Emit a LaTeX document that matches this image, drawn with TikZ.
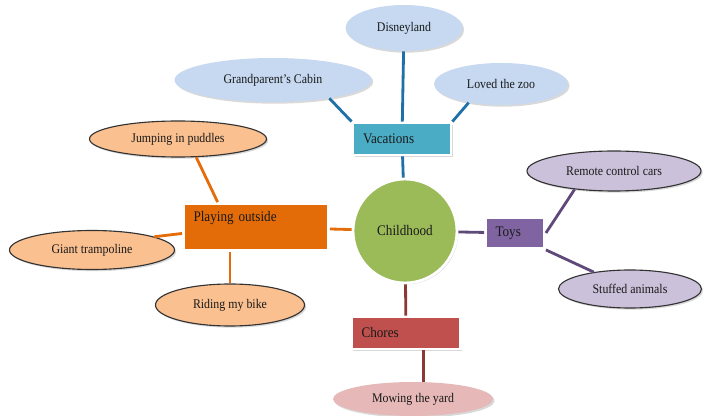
\documentclass[tikz,border=0pt]{standalone}
\usepackage{fontspec}
\setmainfont[FakeStretch=0.9]{Liberation Serif}
\usetikzlibrary{positioning,shapes,shadows}

\definecolor{vacbox}{HTML}{4BACC6}
\definecolor{vacfill}{HTML}{C6D9F1}
\definecolor{vacline}{HTML}{1F70A8}
\definecolor{hubfill}{HTML}{9BBB59}
\definecolor{toybox}{HTML}{8064A2}
\definecolor{toyfill}{HTML}{CCC1DA}
\definecolor{toyline}{HTML}{5F497A}
\definecolor{chorebox}{HTML}{C0504D}
\definecolor{chorefill}{HTML}{E6B9B8}
\definecolor{choreline}{HTML}{8C3836}
\definecolor{playbox}{HTML}{E36C09}
\definecolor{playfill}{HTML}{FAC090}
\definecolor{playline}{HTML}{E46C0A}

\begin{document}
\begin{tikzpicture}
	\useasboundingbox (0,0) rectangle (17.575,-10.4);
	\tikzset{
		leaf/.style={ellipse,inner sep=0pt,font=\fontsize{9.4}{11}\selectfont,text=black!90},
		softshadow/.style={drop shadow={shadow xshift=1.2pt,shadow yshift=-1.2pt,opacity=.3}},
		vacleaf/.style={leaf,fill=vacfill,softshadow},
		toyleaf/.style={leaf,fill=toyfill,draw=black!80,line width=0.8pt,softshadow},
		playleaf/.style={leaf,fill=playfill,draw=black!80,line width=0.8pt,softshadow},
		choreleaf/.style={leaf,fill=chorefill,softshadow},
		topic/.style={rectangle,draw=white,line width=2pt,inner xsep=0.25cm,inner ysep=0pt,
			align=left,font=\fontsize{10.4}{12}\selectfont,text=black!90,softshadow},
		link/.style={line width=2pt}
	}

	%% Hub
	\node[circle,fill=hubfill,draw=white,line width=2pt,minimum size=2.6cm,inner sep=0pt,
		font=\fontsize{10.4}{12}\selectfont,text=black!90,
		drop shadow={shadow xshift=1pt,shadow yshift=-1pt,opacity=.3}] (child) at (10.125,-5.775) {Childhood};

	%% Topic boxes
	\node[topic,fill=vacbox,minimum width=2.45cm,minimum height=0.8cm,text width=1.95cm] (vac) at (10.05,-3.475) {Vacations};
	\node[topic,fill=toybox,minimum width=1.475cm,minimum height=0.775cm,text width=0.975cm] (toys) at (12.875,-5.825) {Toys};
	\node[topic,fill=chorebox,minimum width=2.725cm,minimum height=0.8cm,text width=2.225cm] (chores) at (10.15,-8.325) {Chores};
	\node[topic,fill=playbox,minimum width=3.625cm,text width=3.125cm,inner ysep=0.15cm,
		text height=0.3cm,text depth=0.575cm] (play) at (6.4,-5.675) {Playing outside};

	%% Vacations
	\node[vacleaf,minimum width=2.925cm,minimum height=1.15cm] (disney) at (10.1,-0.7) {Disneyland};
	\node[vacleaf,minimum width=4.925cm,minimum height=1.1cm] (cabin) at (6.825,-2.0) {Grandparent’s Cabin};
	\node[vacleaf,minimum width=3.35cm,minimum height=1.05cm] (zoo) at (12.525,-2.1) {Loved the zoo};

	%% Toys
	\node[toyleaf,minimum width=4.35cm,minimum height=1.0cm] (remote) at (15.35,-4.275) {Remote control cars};
	\node[toyleaf,minimum width=3.575cm,minimum height=0.95cm] (stuffed) at (15.75,-7.225) {Stuffed animals};

	%% Chores
	\node[choreleaf,minimum width=4.0cm,minimum height=0.85cm] (mowing) at (10.325,-9.975) {Mowing the yard};

	%% Playing outside
	\node[playleaf,minimum width=4.425cm,minimum height=0.9cm] (jump) at (4.45,-3.475) {Jumping in puddles};
	\node[playleaf,minimum width=4.125cm,minimum height=0.975cm] (giant) at (2.3,-6.25) {Giant trampoline};
	\node[playleaf,minimum width=3.725cm,minimum height=1.05cm] (riding) at (5.75,-7.625) {Riding my bike};

	%% Connectors
	\path[link,vacline]
		(vac) edge (disney)
		(vac.north west) edge (cabin.-18)
		(vac.north east) edge (zoo.210)
		(vac) edge (child);
	\path[link,toyline]
		(child) edge (toys)
		(toys.east) edge (remote.205)
		(toys.south east) edge (stuffed.155);
	\path[link,choreline]
		(child) edge (chores)
		(chores.-45) edge (chores.-45 |- mowing.north);
	\path[link,playline]
		(child) edge (play)
		(play.147) edge (jump.-45)
		(play.185) edge (giant.12)
		(riding.north |- play.south) edge (riding.north);
\end{tikzpicture}
\end{document}
